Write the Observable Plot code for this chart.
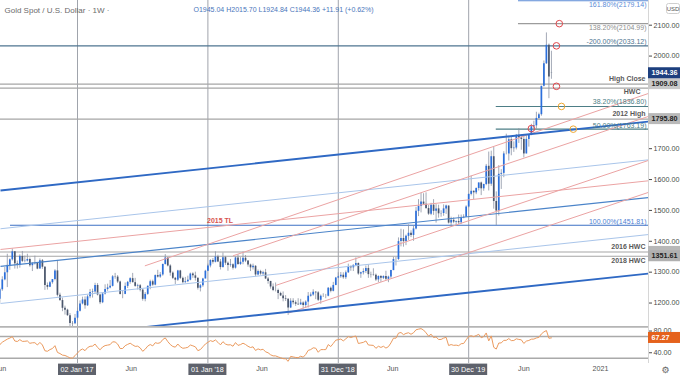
<!DOCTYPE html>
<html><head><meta charset="utf-8">
<script src="https://cdn.jsdelivr.net/npm/d3@7"></script>
<script src="https://cdn.jsdelivr.net/npm/@observablehq/plot@0.6"></script>
<style>
html,body{margin:0;padding:0;background:#fff;}
#chart{width:680px;height:376px;overflow:hidden;position:relative;background:#fff;}
#chart svg{display:block;}
</style></head><body><div id="chart"></div>
<script>
// ---------------- DATA ----------------
const preStart = "2015-09-28";   // warm-up weeks for RSI (not in view)
const preCloses = [1137,1156,1177,1163,1142,1088,1081,1076,1057,1085,
  1075,1065,1076,1061,1098,1089,1097,1116,1157,1239,
  1227,1222,1271,1259,1255,1217,1222,1243,1235,1231,
  1290,1290,1273,1252,1212];
const barStart = "2016-05-30";   // first weekly bar (Monday)
const close2016 = [1243,1275,1298,1322,1340,1366,1327,1322,1351,1335,1336,1341,1321,1327,1328,1310,1337,1316,1257,1251,1266,1276,1304,1225,1208,1183,1177,1159,1134,1133,1151];
const high2016  = [1248,1285,1315,1358,1343,1375,1367,1336,1356,1367,1352,1358,1346,1331,1352,1331,1343,1341,1318,1265,1270,1276,1308,1338,1232,1216,1190,1180,1166,1140,1163];
const low2016   = [1199,1238,1272,1250,1306,1336,1310,1310,1313,1331,1330,1333,1316,1302,1323,1308,1310,1309,1241,1242,1250,1261,1272,1220,1205,1172,1161,1157,1122,1124,1130];
const close2017 = [1173,1197,1210,1191,1220,1234,1236,1257,1226,1201,1229,1244,1249,1254,1285,1284,1268,1228,1228,1254,1267,1279,1266,1254,1256,1242,1212,1228,1254,1269,1258,1289,1284,1291,1325,1346,1320,1297,1280,1274,1304,1280,1266,1269,1274,1294,1288,1280,1248,1256,1278,1303];
const high2017  = [1184,1207,1219,1220,1225,1244,1245,1264,1263,1228,1233,1259,1261,1273,1289,1296,1289,1271,1238,1265,1270,1282,1296,1280,1261,1260,1244,1234,1256,1274,1274,1291,1306,1299,1326,1357,1340,1324,1301,1283,1306,1306,1284,1283,1287,1297,1298,1300,1281,1260,1280,1306];
const low2017   = [1146,1171,1194,1180,1189,1214,1216,1231,1223,1195,1198,1226,1238,1246,1252,1277,1263,1226,1214,1227,1247,1261,1265,1251,1242,1236,1206,1204,1225,1243,1254,1256,1281,1280,1287,1323,1317,1287,1276,1260,1270,1276,1262,1264,1266,1272,1280,1271,1242,1236,1251,1278];
const close2018 = [1320,1338,1332,1349,1333,1315,1347,1329,1322,1324,1313,1346,1325,1332,1345,1336,1323,1314,1319,1291,1302,1294,1298,1278,1270,1252,1241,1241,1231,1223,1214,1212,1184,1206,1201,1196,1194,1200,1192,1203,1222,1226,1235,1233,1209,1222,1222,1222,1248,1238,1257,1281];
const high2018  = [1326,1340,1344,1366,1355,1341,1362,1351,1333,1341,1327,1349,1356,1347,1365,1354,1337,1326,1326,1321,1307,1306,1303,1309,1283,1270,1262,1265,1245,1235,1236,1224,1214,1214,1214,1207,1214,1212,1204,1207,1234,1233,1243,1237,1237,1226,1230,1228,1250,1252,1267,1283];
const low2018   = [1302,1314,1326,1330,1331,1307,1313,1322,1303,1316,1307,1310,1322,1322,1324,1331,1316,1302,1307,1285,1288,1290,1289,1276,1261,1245,1237,1236,1211,1221,1204,1205,1160,1182,1194,1189,1193,1193,1180,1182,1184,1219,1222,1211,1205,1196,1218,1214,1220,1233,1236,1256];
const close2019 = [1285,1290,1282,1298,1318,1314,1322,1328,1294,1298,1302,1312,1292,1291,1290,1275,1286,1280,1286,1277,1284,1305,1341,1341,1399,1409,1399,1416,1426,1419,1440,1497,1513,1527,1520,1506,1488,1517,1497,1505,1489,1490,1505,1514,1459,1468,1462,1464,1460,1476,1478,1511];
const high2019  = [1298,1299,1298,1304,1326,1320,1324,1346,1330,1300,1311,1320,1324,1300,1311,1294,1288,1289,1288,1303,1287,1306,1348,1348,1411,1439,1437,1420,1453,1434,1449,1510,1535,1555,1554,1557,1516,1523,1535,1519,1517,1499,1518,1517,1515,1478,1476,1466,1485,1485,1486,1515];
const low2019   = [1279,1280,1277,1276,1296,1303,1302,1318,1290,1280,1291,1296,1280,1281,1287,1270,1266,1267,1276,1273,1266,1278,1305,1320,1338,1382,1381,1386,1403,1412,1400,1437,1480,1492,1516,1503,1484,1483,1484,1459,1475,1478,1481,1487,1456,1445,1457,1450,1454,1455,1473,1477];
const close2020 = [1552,1562,1557,1571,1589,1570,1584,1643,1585,1674,1529,1498,1617,1620,1683,1683,1729,1700,1702,1743,1735,1730,1683,1730,1744,1771,1774,1798,1810,1902,1975,2035,1932.45,1944.36];
const high2020  = [1553,1611,1563,1573,1589,1592,1585,1649,1689,1692,1704,1560,1645,1632,1690,1747,1738,1737,1722,1746,1765,1745,1746,1744,1746,1779,1789,1818,1815,1902,1984,2075,2039,2015.70];
const low2020   = [1508,1547,1535,1551,1563,1548,1562,1580,1563,1578,1504,1451,1482,1568,1606,1680,1660,1677,1688,1696,1717,1695,1670,1686,1705,1742,1757,1763,1795,1805,1900,1973,1862,1924.84];
const lastOpen = 1945.04;
const rsiLastLabel = 67.27;

// tick labels left visible on the axes (1800/1900 and 60 sit under price tags)
const priceTicks = [1200,1300,1400,1500,1600,1700,2000,2100];
const rsiTicks = [40,80];
const rsiLevels = [70,30];

const yearLines = ["2017-01-02","2018-01-01","2018-12-31","2019-12-30"];
const yearLabels = ["02 Jan '17","01 Jan '18","31 Dec '18","30 Dec '19"];
const junTicks = ["2016-06-01","2017-06-01","2018-06-01","2019-06-01","2020-06-01"];
const plainTicks = [{date:"2021-01-01", label:"2021"}];

// horizontal levels (full width)
const grayLevels = [1909.08, 1896, 1795.80, 1365.5, 1351.61];
const tagsAbove = [{label:"High Close", price:1909.08},{label:"2012 High", price:1795.80},{label:"2016 HWC", price:1365.5}];
const tagsBelow = [{label:"2018 HWC", price:1351.61}];
const tagHWC = [{label:"HWC", price:1896}];
const fibLevels = [
  {label:"161.80%(2179.14)", price:2179.14, start:"2020-05-17"},
  {label:"138.20%(2104.99)", price:2104.99, start:"2020-05-17"},
  {label:"-200.00%(2033.12)", price:2033.12, start:"2016-05-20"},
  {label:"38.20%(1836.80)", price:1836.80, start:"2020-03-16"},
  {label:"50.00%(1763.19)", price:1763.19, start:"2020-03-16"},
  {label:"100.00%(1451.81)", price:1451.81, start:"2016-06-29"}
];
const tlLabel = [{label:"2015 TL", date:"2018-02-04", price:1451.81}];

// trend lines (date, price) -> (date, price)
const blueOuter = [
  {d1:"2016-06-01", p1:1564.6, d2:"2021-05-15", p2:1787.9},
  {d1:"2016-06-01", p1:1072.3, d2:"2021-05-15", p2:1295.6}
];
const blueMid = [{d1:"2016-06-01", p1:1318.5, d2:"2021-05-15", p2:1541.8}];
const blueQuarter = [
  {d1:"2016-06-01", p1:1440.6, d2:"2021-05-15", p2:1663.9},
  {d1:"2016-06-01", p1:1198.6, d2:"2021-05-15", p2:1421.9}
];
const redLines = [
  {d1:"2016-06-01", p1:1373.5, d2:"2021-05-15", p2:1596.0},
  {d1:"2017-07-09", p1:1320.4, d2:"2021-05-15", p2:1879.0},
  {d1:"2018-03-12", p1:1353.0, d2:"2021-05-15", p2:1804.6},
  {d1:"2018-07-10", p1:1257.3, d2:"2021-05-15", p2:1662.0},
  {d1:"2018-08-15", p1:1167.9, d2:"2021-05-15", p2:1558.5}
];
const redRings = [{date:"2020-09-08", price:2104.99},{date:"2020-08-31", price:2033.12},{date:"2020-08-31", price:1902},{date:"2020-06-22", price:1765}];
const orangeRings = [{date:"2020-09-14", price:1836.80},{date:"2020-10-17", price:1763.19}];

const axisBoxes = [
  {label:"1909.08", price:1909.08},
  {label:"1795.80", price:1795.80},
  {label:"1351.61", price:1351.61}
];
const hiddenBox = [1365.5];

const titleText = "Gold Spot / U.S. Dollar · 1W ·";

// ---------------- BUILD ----------------
const allCloses = preCloses.concat(close2016, close2017, close2018, close2019, close2020);
const closes = [].concat(close2016, close2017, close2018, close2019, close2020);
const highs = [].concat(high2016, high2017, high2018, high2019, high2020);
const lows = [].concat(low2016, low2017, low2018, low2019, low2020);
const nPre = preCloses.length;
const t0 = new Date(preStart);
const allDates = allCloses.map((_, i) => d3.utcMonday.offset(t0, i));
const bars = closes.map((c, i) => {
  const open = i === closes.length - 1 ? lastOpen : allCloses[nPre + i - 1];
  return {date: allDates[nPre + i], open, close: c,
    high: Math.max(highs[i], open, c), low: Math.min(lows[i], open, c)};
});

function wilderRSI(v, n) {
  const out = v.map(() => NaN);
  let g = 0, l = 0;
  for (let i = 1; i <= n; i++) { const ch = v[i] - v[i-1]; if (ch > 0) g += ch; else l -= ch; }
  g /= n; l /= n;
  out[n] = 100 - 100 / (1 + g / l);
  for (let i = n + 1; i < v.length; i++) {
    const ch = v[i] - v[i-1];
    g = (g * (n - 1) + Math.max(ch, 0)) / n;
    l = (l * (n - 1) + Math.max(-ch, 0)) / n;
    out[i] = l === 0 ? 100 : 100 - 100 / (1 + g / l);
  }
  return out;
}
const rsiAll = wilderRSI(allCloses, 14);
const rsiData = allDates.map((d, i) => ({date: d, rsi: rsiAll[i]})).filter(d => !isNaN(d.rsi) && d.date >= d3.utcDay.offset(new Date(barStart), -28));

const xDomain = [new Date("2016-06-01"), new Date("2021-05-15")];
const yDomain = [1124, 2180];
const rsiDomain = [20.2, 88.4];
const FONT = "'Liberation Sans', Arial, sans-serif";
const D = s => new Date(s);
const xEnd = () => xDomain[1];

const up = "#2b6fdc", down = "#4a566c", wick = "#8b93a3";
const fibLook = [
  {stroke:"#5b8bd6", fill:"#5b8bd6", dy:4},
  {stroke:"#9c9c9c", fill:"#8e8e8e", dy:4},
  {stroke:"#4e7490", fill:"#4e7490", dy:-4},
  {stroke:"#4d7e86", fill:"#4d7e86", dy:-5},
  {stroke:"#4d7e86", fill:"#4d7e86", dy:-3},
  {stroke:"#3c70c4", fill:"#4d80d2", dy:-4}
];
const linkOpts = (stroke, w) => ({x1: d => D(d.d1), y1: "p1", x2: d => D(d.d2), y2: "p2", stroke, strokeWidth: w, clip: true});

const main = Plot.plot({
  width: 680, height: 326,
  marginLeft: 0, marginRight: 32, marginTop: 0, marginBottom: 0,
  style: {fontFamily: FONT, fontSize: "7.2px", color: "#4a4a4a", background: "#fff"},
  x: {type: "utc", domain: xDomain, axis: null},
  y: {domain: yDomain, axis: "right", ticks: priceTicks, tickFormat: d3.format(".2f"), tickSize: 3, tickPadding: 2, label: null},
  marks: [
    Plot.ruleX(yearLines, {x: d => D(d), stroke: "#a0a4ac", strokeWidth: 1}),
    Plot.ruleY(grayLevels, {y: d => d, x1: () => xDomain[0], x2: xEnd, stroke: "#a6a6a6", strokeWidth: 1.1}),
    ...fibLevels.map((f, i) => Plot.ruleY([f], {y: "price", x1: d => D(d.start), x2: xEnd, stroke: fibLook[i].stroke, strokeWidth: 1.1})),
    Plot.ruleX(bars, {x: "date", y1: "low", y2: "high", stroke: wick, strokeWidth: 0.8}),
    Plot.ruleX(bars, {x: "date", y1: "open", y2: "close", stroke: d => d.close >= d.open ? up : down, strokeWidth: 1.7}),
    Plot.link(blueQuarter, linkOpts("#a9c5ea", 1)),
    Plot.link(blueMid, linkOpts("#4b84c9", 1.2)),
    Plot.link(redLines, linkOpts("#eba3a3", 1)),
    Plot.link(blueOuter, linkOpts("#2f69c4", 1.8)),
    Plot.dot(redRings, {x: d => D(d.date), y: "price", r: 3.3, stroke: "#e0474c", strokeWidth: 1, fill: "none"}),
    Plot.dot(orangeRings, {x: d => D(d.date), y: "price", r: 3.3, stroke: "#f0a832", strokeWidth: 1, fill: "none"}),
    ...fibLevels.map((f, i) => Plot.text([f], {x: xEnd, y: "price", text: "label", textAnchor: "end", dx: -2, dy: fibLook[i].dy, fontSize: 7, fill: fibLook[i].fill})),
    Plot.text(tagsAbove, {x: xEnd, y: "price", text: "label", textAnchor: "end", dx: -3, dy: -5, fontSize: 7, fontWeight: "bold", fill: "#5a5a5a"}),
    Plot.text(tagsBelow, {x: xEnd, y: "price", text: "label", textAnchor: "end", dx: -3, dy: 5, fontSize: 7, fontWeight: "bold", fill: "#5a5a5a"}),
    Plot.text(tagHWC, {x: xEnd, y: "price", text: "label", textAnchor: "end", dx: -8, dy: 4, fontSize: 7, fontWeight: "bold", fill: "#5a5a5a"}),
    Plot.text(tlLabel, {x: d => D(d.date), y: "price", text: "label", dy: -5, fontSize: 7, fontWeight: "bold", fill: "#d9534f"}),
    Plot.text([titleText], {frameAnchor: "top-left", text: d => d, dx: 4, dy: 7, textAnchor: "start", fontSize: 8, fill: "#6b6b6b"}),
    Plot.text([bars[bars.length - 1]], {frameAnchor: "top-left", dx: 193, dy: 7, textAnchor: "start", fontSize: 7, fill: "#4a76bb",
      text: d => { const prev = bars[bars.length - 2].close; const ch = d.close - prev;
        return `O${d.open.toFixed(2)} H${d.high.toFixed(2)} L${d.low.toFixed(2)} C${d.close.toFixed(2)} ${ch >= 0 ? "+" : ""}${ch.toFixed(2)} (${ch >= 0 ? "+" : ""}${(ch / prev * 100).toFixed(2)}%)`; }}),
    Plot.ruleX([xDomain[1]], {stroke: "#d6d6d6"})
  ]
});

const rsiPlot = Plot.plot({
  width: 680, height: 50,
  marginLeft: 0, marginRight: 32, marginTop: 0, marginBottom: 13,
  style: {fontFamily: FONT, fontSize: "7.2px", color: "#4a4a4a", background: "#fff"},
  x: {type: "utc", domain: xDomain, axis: null},
  y: {domain: rsiDomain, axis: "right", ticks: rsiTicks, tickFormat: d3.format(".2f"), tickSize: 3, tickPadding: 2, label: null},
  marks: [
    Plot.ruleX(yearLines, {x: d => D(d), stroke: "#a0a4ac", strokeWidth: 1}),
    Plot.ruleY(rsiLevels, {y: d => d, x1: () => xDomain[0], x2: xEnd, stroke: "#aaaaaa", strokeWidth: 1.6}),
    Plot.ruleY([rsiDomain[1]], {x1: () => xDomain[0], x2: xEnd, stroke: "#b5b5b5", strokeWidth: 2.4}),
    Plot.line(rsiData, {x: "date", y: "rsi", stroke: "#eb9a5e", strokeWidth: 1, clip: true}),
    Plot.text(junTicks, {x: d => D(d), frameAnchor: "bottom", text: () => "Jun", dy: 7, fontSize: 7.2, fill: "#555"}),
    Plot.text(plainTicks, {x: d => D(d.date), frameAnchor: "bottom", text: "label", dy: 7, fontSize: 7.2, fill: "#555"}),
    Plot.ruleX([xDomain[1]], {stroke: "#d6d6d6"})
  ]
});

function scaleFn(plot, name) {
  const s = plot.scale(name);
  if (s.apply) return v => s.apply(v);
  return (s.type === "utc" ? d3.scaleUtc : d3.scaleLinear)(s.domain, s.range);
}

const holder = document.getElementById("chart");
holder.appendChild(main);
holder.appendChild(rsiPlot);
main.style.overflow = "hidden";
rsiPlot.style.overflow = "hidden";

// price-axis tags
const my = scaleFn(main, "y");
const gm = d3.select(main).append("g").attr("font-family", FONT).attr("font-size", 7.2).attr("text-anchor", "start");
function tag(g, yv, label, bg, fg) {
  g.append("rect").attr("x", 648).attr("y", yv - 5.5).attr("width", 32).attr("height", 11).attr("fill", bg);
  if (label) g.append("text").attr("x", 651.5).attr("y", yv).attr("dy", "0.34em").attr("text-anchor", "start")
    .attr("fill", fg).attr("font-weight", "bold").text(label);
}
hiddenBox.forEach(p => tag(gm, my(p), null, "#b8b8b8", "#222"));
axisBoxes.forEach((b, i) => tag(gm, my(b.price), b.label, ["#c9c9c9","#b9b9b9","#b0b0b0"][i], "#222"));
const lastBar = bars[bars.length - 1];
tag(gm, my(lastBar.close), lastBar.close.toFixed(2), "#1d3f7e", "#fff");
// USD badge
gm.append("rect").attr("x", 666.5).attr("y", 3.5).attr("width", 13).attr("height", 10).attr("rx", 2).attr("fill", "#fff").attr("stroke", "#cfcfcf");
gm.append("text").attr("x", 673).attr("y", 8.7).attr("dy", "0.34em").attr("text-anchor", "middle").attr("font-size", 6).attr("fill", "#555").text("USD");

// RSI tag + date boxes
const rx = scaleFn(rsiPlot, "x"), ry = scaleFn(rsiPlot, "y");
const gr = d3.select(rsiPlot).append("g").attr("font-family", FONT).attr("font-size", 7.2).attr("text-anchor", "start");
tag(gr, ry(rsiLastLabel), rsiLastLabel.toFixed(2), "#e5621c", "#fff");
yearLines.forEach((d, i) => {
  const cx = rx(D(d));
  gr.append("rect").attr("x", cx - 19).attr("y", 37.6).attr("width", 38).attr("height", 11.4).attr("fill", "#5e626c");
  gr.append("text").attr("x", cx).attr("y", 43.3).attr("dy", "0.34em").attr("text-anchor", "middle").attr("fill", "#fff").text(yearLabels[i]);
});
gr.append("text").attr("x", 665.5).attr("y", 43.5).attr("dy", "0.34em").attr("text-anchor", "middle")
  .attr("font-family", "'DejaVu Sans', sans-serif").attr("font-size", 9).attr("fill", "#666").text("⚙");
</script>
</body></html>
